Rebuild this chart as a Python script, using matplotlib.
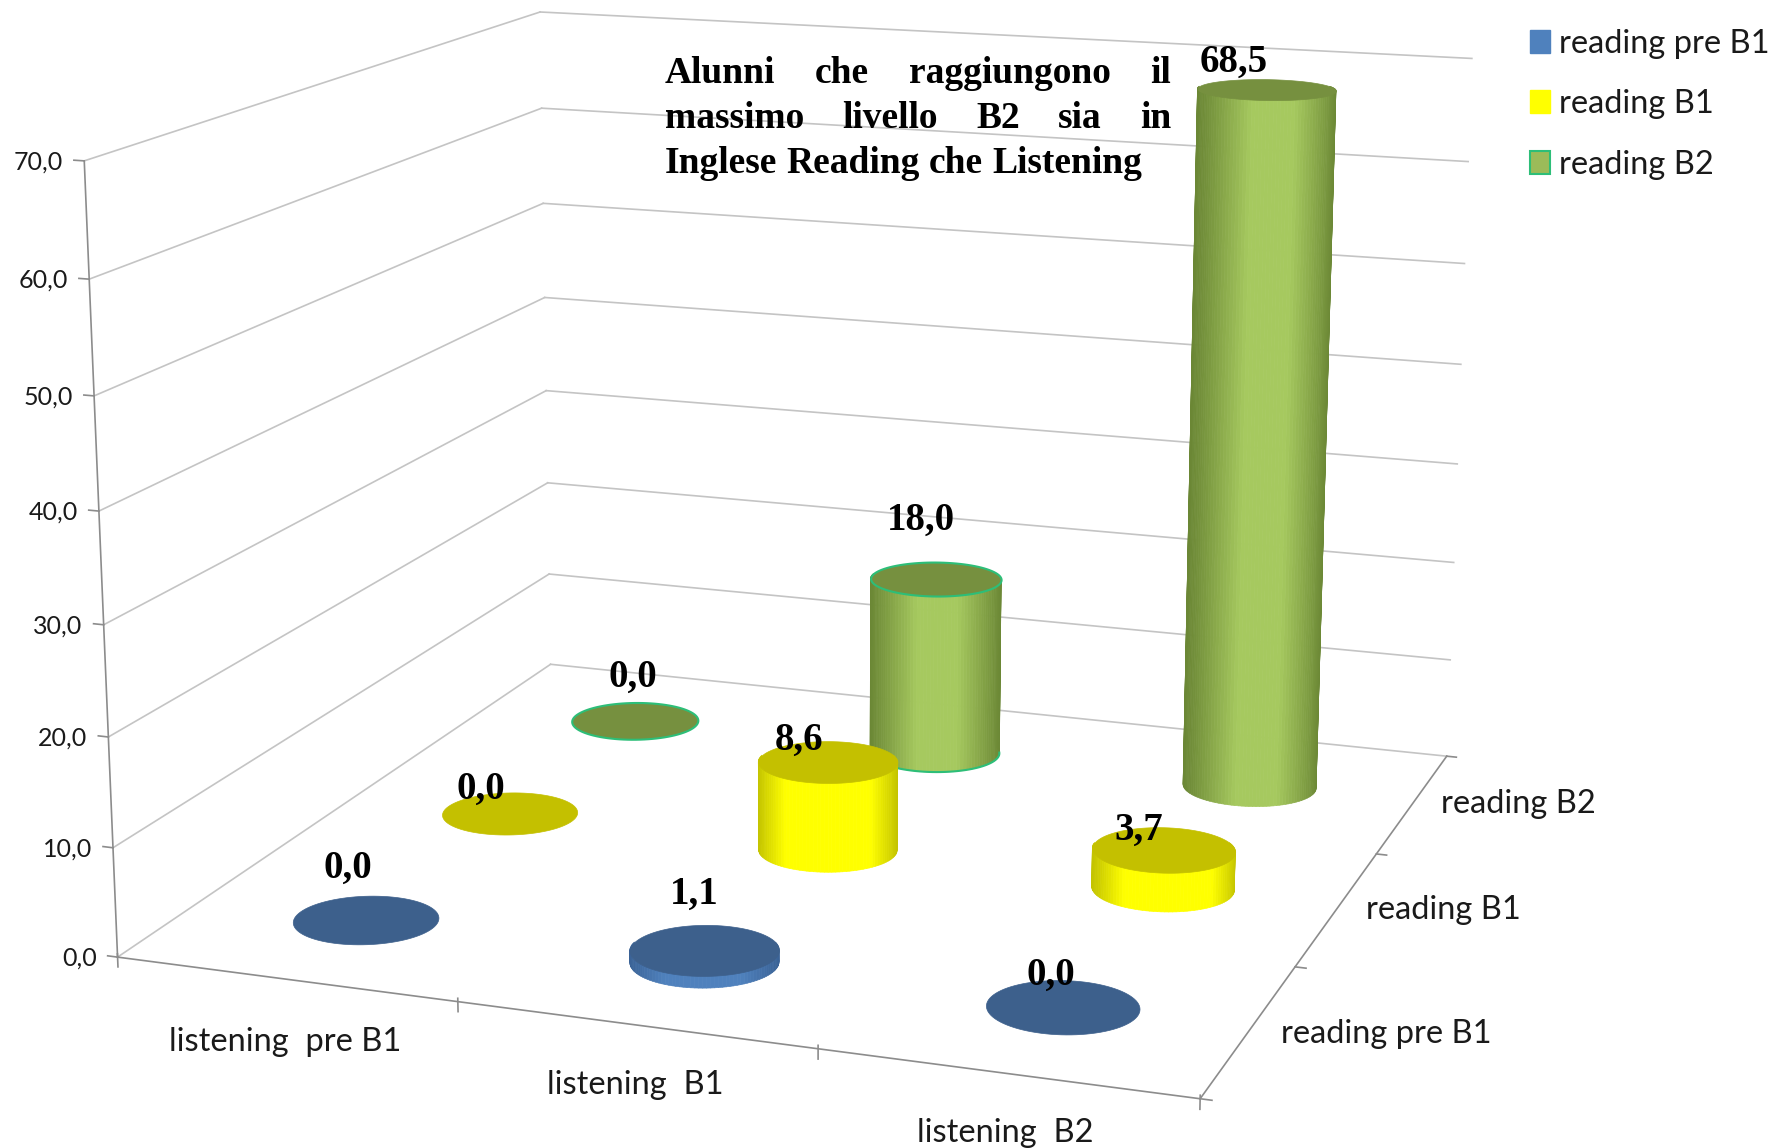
import numpy as np
import matplotlib
matplotlib.use("Agg")
import matplotlib.pyplot as plt
from matplotlib.patches import Patch
from mpl_toolkits.mplot3d import proj3d
from mpl_toolkits.mplot3d.art3d import Poly3DCollection

W, H = 1777, 1148

listening = ["listening  pre B1", "listening  B1", "listening  B2"]
reading = ["reading pre B1", "reading B1", "reading B2"]
z_ticks = [0, 10, 20, 30, 40, 50, 60, 70]

# rows are reading levels, columns are listening levels
row_pre_b1 = [0.0, 1.1, 0.0]
row_b1 = [0.0, 8.6, 3.7]
row_b2 = [0.0, 18.0, 68.5]
values = [row_pre_b1, row_b1, row_b2]

# pixel offsets of the value labels from the top of each cylinder
label_dx = [[-18, -10, -12], [-29, -29, -25], [-2, -15, -33]]
label_dy = [[-51, -56, -32], [-24, -21, -19], [-43, -58, -27]]

side_dark = ["#3A6296", "#C4C400", "#6B8735"]
side_light = ["#4F81BD", "#FFFF00", "#A6C95F"]
band = [0.5, 0.4, 0.7]
top_color = ["#3D608C", "#C4C000", "#76903F"]
legend_color = ["#4F81BD", "#FFFF00", "#9BBB59"]
title_lines = ["Alunni che raggiungono il", "massimo livello B2 sia in", "Inglese Reading che Listening"]

ELEV, AZIM, FOCAL, ZOOM = 14.0295, -70.4293, 0.70265, 1.41779
BOX = (1.04563, 1.03200, 0.75487)
RADIUS = 0.2

plt.rcParams["font.family"] = ["Lato", "DejaVu Sans"]

fig = plt.figure(figsize=(17.771, 11.481), dpi=100)
ax = fig.add_axes([238.3 / W, 72.65 / H, H / W, 1], projection="3d", computed_zorder=False)
ax.set_xlim3d(0, 3, view_margin=0)
ax.set_ylim3d(0, 3, view_margin=0)
ax.set_zlim3d(0, 70, view_margin=0)
ax.view_init(elev=ELEV, azim=AZIM)
ax.set_proj_type("persp", focal_length=FOCAL)
ax.set_box_aspect(BOX, zoom=ZOOM)
ax.set_axis_off()
ax.apply_aspect()


def to_pixels(x, y, z):
    px, py, _ = proj3d.proj_transform(x, y, z, ax.get_proj())
    return ax.transData.transform((px, py))


def put_text(x, y, z, dx, dy, text, **kw):
    px, py = to_pixels(x, y, z)
    return fig.text((px + dx) / W, (py - dy) / H, text, **kw)


def line3d(xs, ys, zs, color, lw=1.2):
    ax.plot(xs, ys, zs, color=color, lw=lw, zorder=1, clip_on=False)


GRID = "#C4C4C4"
AXIS = "#8C8C8C"

# walls
for z in z_ticks:
    line3d([0, 0], [0, 3], [z, z], GRID)
    line3d([0, 3], [3, 3], [z, z], GRID)

# axes lines and ticks
line3d([0, 0], [0, 0], [0, 70], AXIS)
line3d([0, 3], [0, 0], [0, 0], AXIS)
line3d([3, 3], [0, 3], [0, 0], AXIS)
for z in z_ticks:
    line3d([-0.03, 0], [0, 0], [z, z], AXIS)
for i in range(4):
    line3d([i, i], [0, 0], [-0.9, 0.3], AXIS)
    line3d([3, 3.03], [i, i], [0, 0], AXIS)


def hex_rgb(c):
    return np.array(matplotlib.colors.to_rgb(c))


def add_cylinder(xc, yc, v, row, order, outline):
    view = np.radians(AZIM)
    edge = "#2DBE78" if outline else None
    if v > 0:
        angles = view + np.linspace(-0.6 * np.pi, 0.6 * np.pi, 73)
        polys, cols = [], []
        dark, light = hex_rgb(side_dark[row]), hex_rgb(side_light[row])
        for a0, a1 in zip(angles[:-1], angles[1:]):
            u = abs(np.sin((a0 + a1) / 2 - view))
            t = np.clip((1 - u) / band[row], 0, 1)
            polys.append([
                (xc + RADIUS * np.cos(a0), yc + RADIUS * np.sin(a0), 0),
                (xc + RADIUS * np.cos(a1), yc + RADIUS * np.sin(a1), 0),
                (xc + RADIUS * np.cos(a1), yc + RADIUS * np.sin(a1), v),
                (xc + RADIUS * np.cos(a0), yc + RADIUS * np.sin(a0), v),
            ])
            cols.append(dark + (light - dark) * t)
        side = Poly3DCollection(polys, facecolors=cols, edgecolors=cols, linewidths=0.5)
        side.set_zorder(order)
        ax.add_collection3d(side, autolim=False)
        side.set_clip_on(False)
        if outline:
            a = view + np.linspace(-0.5 * np.pi, 0.5 * np.pi, 49)
            ax.plot(xc + RADIUS * np.cos(a), yc + RADIUS * np.sin(a), 0 * a, color=edge, lw=1.5,
                    zorder=order, clip_on=False)
    a = np.linspace(0, 2 * np.pi, 97)[:-1]
    disc = [list(zip(xc + RADIUS * np.cos(a), yc + RADIUS * np.sin(a), np.full_like(a, v)))]
    top = Poly3DCollection(disc, facecolors=top_color[row],
                           edgecolors=edge if outline else top_color[row],
                           linewidths=1.5 if outline else 0.5)
    top.set_zorder(order + 0.5)
    ax.add_collection3d(top, autolim=False)
    top.set_clip_on(False)


# back rows first so that the front ones cover them
for row in [2, 1, 0]:
    for col in range(3):
        add_cylinder(col + 0.5, row + 0.5, values[row][col], row, 10 + (2 - row) * 2,
                     outline=(row == 2 and col < 2))

# value labels
for row in range(3):
    for col in range(3):
        put_text(col + 0.5, row + 0.5, values[row][col], label_dx[row][col], label_dy[row][col],
                 f"{values[row][col]:.1f}".replace(".", ","), family="Liberation Serif",
                 fontweight="bold", fontsize=28, ha="center", va="center", color="black")

# axis labels
TICK_SIZE = 23.5
x_off = [(0, 63), (0, 60), (-1, 60)]
for i, lab in enumerate(listening):
    put_text(i + 0.5, 0, 0, x_off[i][0], x_off[i][1], lab, fontsize=TICK_SIZE, ha="center",
             va="center", color="#1A1A1A")
y_off = [(137, 4), (106, 2), (106, 1)]
for i, lab in enumerate(reading):
    put_text(3, i + 0.5, 0, y_off[i][0], y_off[i][1], lab, fontsize=TICK_SIZE, ha="center",
             va="center", color="#1A1A1A")
for z in z_ticks:
    put_text(0, 0, z, -21, 1, f"{z:.1f}".replace(".", ","), fontsize=18, ha="right", va="center",
             color="#1A1A1A")

# justified title box, as in the source document
renderer = fig.canvas.get_renderer()
left, right = 665, 1171
line_y = [73, 118, 163]
for n, (line, y) in enumerate(zip(title_lines, line_y)):
    words = line.split()
    items = [fig.text(0, 1 - y / H, w, family="Liberation Serif", fontweight="bold", fontsize=27,
                      ha="left", va="center", color="black", zorder=50) for w in words]
    widths = [t.get_window_extent(renderer).width for t in items]
    if n < 2:
        gap = (right - left - sum(widths)) / (len(words) - 1)
    else:
        gap = 9
    pos = left
    for t, wd in zip(items, widths):
        t.set_x(pos / W)
        pos += wd + gap

handles = [Patch(facecolor=legend_color[0], edgecolor=legend_color[0]),
           Patch(facecolor=legend_color[1], edgecolor=legend_color[1]),
           Patch(facecolor=legend_color[2], edgecolor="#2DBE78", linewidth=1.5)]
fig.legend(handles, reading, loc="upper left", bbox_to_anchor=(1530 / W, 1 - 29 / H), frameon=False,
           fontsize=TICK_SIZE, labelspacing=0.93, handlelength=0.6, handleheight=0.7, handletextpad=0.3,
           borderpad=0, borderaxespad=0, labelcolor="#1A1A1A")

fig.savefig("out.png", dpi=100)
